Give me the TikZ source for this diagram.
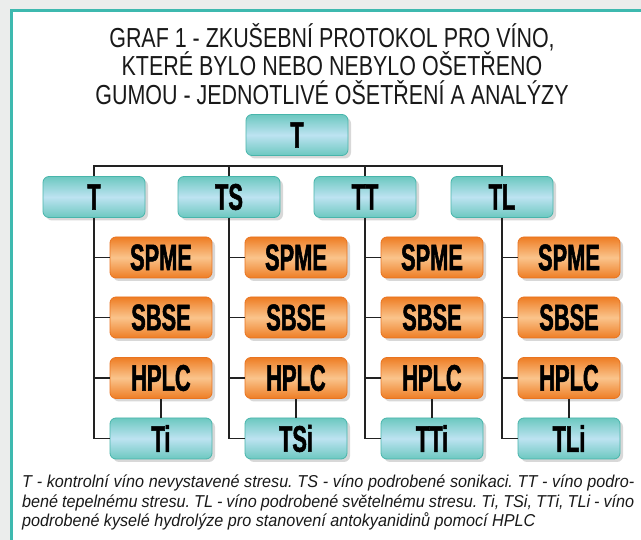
\documentclass[tikz,border=0pt]{standalone}
\usepackage{fontspec}
\setmainfont{Liberation Sans}
\newfontfamily\titlefont[FakeStretch=0.78]{Liberation Sans}
\newfontfamily\boxfont[FakeStretch=0.59, FakeBold=1.4]{Liberation Sans Bold}
\newfontfamily\capfont[FakeStretch=0.94]{Liberation Sans Italic}
\usetikzlibrary{shadows}

\definecolor{pagegrey}{HTML}{EBEDEC}
\definecolor{frameteal}{HTML}{3EB9AF}
\definecolor{tealedge}{HTML}{48B5AB}
\definecolor{tealdark}{HTML}{6CC8C0}
\definecolor{teallight}{HTML}{BDE3F1}
\definecolor{orangeedge}{HTML}{E97420}
\definecolor{orangedark}{HTML}{EE7D24}
\definecolor{orangelight}{HTML}{FAC48C}
\definecolor{linkgrey}{HTML}{222222}

\begin{document}
\begin{tikzpicture}[x=1pt, y=-1pt]
% --- Global Styles ---
\tikzstyle{box} = [rounded corners=6pt, minimum width=102pt, minimum height=41pt, inner sep=0pt, line width=0.8pt, font=\boxfont\fontsize{37}{37}\selectfont, drop shadow={shadow xshift=3pt, shadow yshift=-3pt, opacity=0.3}]
\tikzstyle{treat} = [box, draw=tealedge, top color=tealdark, bottom color=tealdark, middle color=teallight]
\tikzstyle{anal} = [box, draw=orangeedge, top color=orangedark, bottom color=orangedark, middle color=orangelight]
\tikzstyle{link} = [draw=linkgrey, line width=1.3pt]

% --- Column X-coordinates (trunk lines) ---
\def\xa{94}   % T column
\def\xb{229}  % TS column
\def\xc{365}  % TT column
\def\xd{502}  % TL column
\def\dx{67}   % trunk -> analysis box centre

% --- Row Y-coordinates ---
\def\yr{197}    % treatment row
\def\ya{257.5}  % SPME row
\def\yb{317.5}  % SBSE row
\def\yc{378}    % HPLC row
\def\yd{438.5}  % hydrolysis row

% --- Page and frame ---
\useasboundingbox (0,0) rectangle (641,540);
\fill[pagegrey] (0,0) rectangle (641,540);
\fill[white] (11,11) rectangle (641,540);
\draw[frameteal, line width=3pt] (641,11) -- (11,11) -- (11,540);

% --- Title ---
\node[align=center, text=black!90, font=\titlefont\fontsize{27.5}{28.5}\selectfont] (title) at (332,64)
  {GRAF 1 - ZKUŠEBNÍ PROTOKOL PRO VÍNO,\\KTERÉ BYLO NEBO NEBYLO OŠETŘENO\\GUMOU - JEDNOTLIVÉ OŠETŘENÍ A ANALÝZY};

% ==========================================
% TREATMENTS
% ==========================================
\node[treat] (root) at (297,135) {T};
\node[treat] (t)  at (\xa,\yr) {T};
\node[treat] (ts) at (\xb,\yr) {TS};
\node[treat] (tt) at (\xc,\yr) {TT};
\node[treat] (tl) at (\xd,\yr) {TL};

% Bus line above the treatment row
\coordinate (bus) at ([yshift=10pt]t.north);
\draw[link] (t.north) -- (bus) -| (tl.north);
\draw[link] (ts.north) -- (ts.north |- bus);
\draw[link] (tt.north) -- (tt.north |- bus);

% ==========================================
% COLUMN T
% ==========================================
\node[anal]  (t-spme) at (\xa+\dx,\ya) {SPME};
\node[anal]  (t-sbse) at (\xa+\dx,\yb) {SBSE};
\node[anal]  (t-hplc) at (\xa+\dx,\yc) {HPLC};
\node[treat] (t-i)    at (\xa+\dx,\yd) {Ti};

\draw[link] (t.south) |- (t-i.west);
\draw[link] (t.south |- t-spme.west) -- (t-spme.west);
\draw[link] (t.south |- t-sbse.west) -- (t-sbse.west);
\draw[link] (t.south |- t-hplc.west) -- (t-hplc.west);
\draw[link] (t-hplc.south) -- (t-i.north);

% ==========================================
% COLUMN TS
% ==========================================
\node[anal]  (ts-spme) at (\xb+\dx,\ya) {SPME};
\node[anal]  (ts-sbse) at (\xb+\dx,\yb) {SBSE};
\node[anal]  (ts-hplc) at (\xb+\dx,\yc) {HPLC};
\node[treat] (ts-i)    at (\xb+\dx,\yd) {TSi};

\draw[link] (ts.south) |- (ts-i.west);
\draw[link] (ts.south |- ts-spme.west) -- (ts-spme.west);
\draw[link] (ts.south |- ts-sbse.west) -- (ts-sbse.west);
\draw[link] (ts.south |- ts-hplc.west) -- (ts-hplc.west);
\draw[link] (ts-hplc.south) -- (ts-i.north);

% ==========================================
% COLUMN TT
% ==========================================
\node[anal]  (tt-spme) at (\xc+\dx,\ya) {SPME};
\node[anal]  (tt-sbse) at (\xc+\dx,\yb) {SBSE};
\node[anal]  (tt-hplc) at (\xc+\dx,\yc) {HPLC};
\node[treat] (tt-i)    at (\xc+\dx,\yd) {TTi};

\draw[link] (tt.south) |- (tt-i.west);
\draw[link] (tt.south |- tt-spme.west) -- (tt-spme.west);
\draw[link] (tt.south |- tt-sbse.west) -- (tt-sbse.west);
\draw[link] (tt.south |- tt-hplc.west) -- (tt-hplc.west);
\draw[link] (tt-hplc.south) -- (tt-i.north);

% ==========================================
% COLUMN TL
% ==========================================
\node[anal]  (tl-spme) at (\xd+\dx,\ya) {SPME};
\node[anal]  (tl-sbse) at (\xd+\dx,\yb) {SBSE};
\node[anal]  (tl-hplc) at (\xd+\dx,\yc) {HPLC};
\node[treat] (tl-i)    at (\xd+\dx,\yd) {TLi};

\draw[link] (tl.south) |- (tl-i.west);
\draw[link] (tl.south |- tl-spme.west) -- (tl-spme.west);
\draw[link] (tl.south |- tl-sbse.west) -- (tl-sbse.west);
\draw[link] (tl.south |- tl-hplc.west) -- (tl-hplc.west);
\draw[link] (tl-hplc.south) -- (tl-i.north);

% --- Caption ---
\node[anchor=north west, align=left, inner sep=0pt, text=black!90, font=\capfont\fontsize{17.2}{19.5}\selectfont\frenchspacing] (caption) at (22,475)
  {\makebox[612pt][s]{T - kontrolní víno nevystavené stresu. TS - víno podrobené sonikaci. TT - víno podro-}\\
   \makebox[612pt][s]{bené tepelnému stresu. TL - víno podrobené světelnému stresu. Ti, TSi, TTi, TLi - víno}\\
   podrobené kyselé hydrolýze pro stanovení antokyanidinů pomocí HPLC};

\end{tikzpicture}
\end{document}
